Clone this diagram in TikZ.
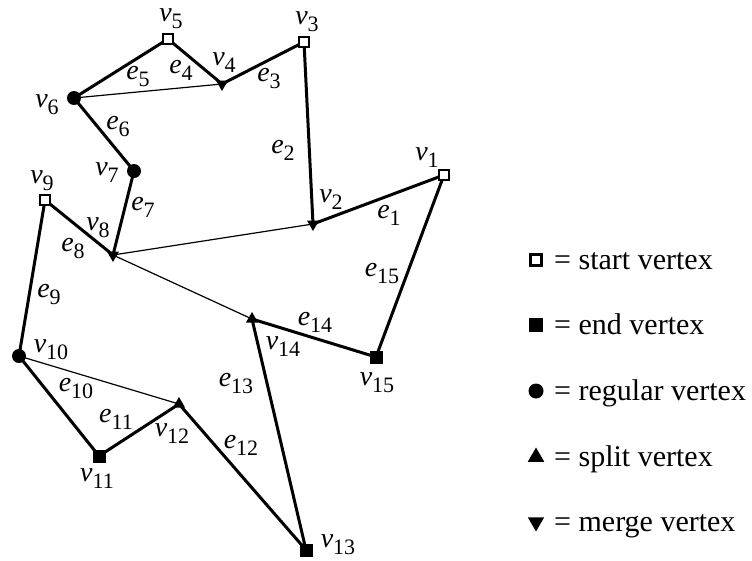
\documentclass[tikz,border=0pt]{standalone}
\usepackage{fontspec}
\setmainfont{Liberation Serif}
\usetikzlibrary{shapes.geometric}

% vertex and edge names with a lowered index
\newcommand{\vname}[1]{\textit{v}\raisebox{-0.25em}{\fontsize{22}{22}\selectfont #1}}
\newcommand{\ename}[1]{\textit{e}\raisebox{-0.25em}{\fontsize{22}{22}\selectfont #1}}

\tikzset{
  vmark/.style={inner sep=0pt, outer sep=0pt},
  startv/.style={vmark, rectangle, draw, fill=white, line width=2.4pt, minimum size=10pt},
  endv/.style={vmark, rectangle, fill, minimum size=13pt},
  regv/.style={vmark, circle, fill, minimum size=14pt},
  splitv/.style={vmark, regular polygon, regular polygon sides=3, fill, minimum size=14pt},
  mergev/.style={splitv, shape border rotate=180},
  boundary/.style={line width=3pt, line join=miter},
  diagonal/.style={line width=1.2pt},
  lab/.style={font=\fontsize{28}{30}\selectfont, inner sep=0pt},
  key/.style={font=\fontsize{30}{32}\selectfont, inner sep=0pt, anchor=base west},
}

\begin{document}
\begin{tikzpicture}[x=1pt, y=-1pt]
\useasboundingbox (0,0) rectangle (752,560);

% Vertices of the polygon
\coordinate (v1) at (444,175);
\coordinate (v2) at (313,224);
\coordinate (v3) at (304,42);
\coordinate (v4) at (222,84);
\coordinate (v5) at (168,39);
\coordinate (v6) at (74,98);
\coordinate (v7) at (134,171);
\coordinate (v8) at (113,255);
\coordinate (v9) at (45,200);
\coordinate (v10) at (19,356);
\coordinate (v11) at (99,456);
\coordinate (v12) at (179,404);
\coordinate (v13) at (306,550);
\coordinate (v14) at (252,319);
\coordinate (v15) at (376,357);

% Diagonals
\draw[diagonal] (v6) -- (v4);
\draw[diagonal] (v8) -- (v2);
\draw[diagonal] (v8) -- (v14);
\draw[diagonal] (v10) -- (v12);

% Boundary
\draw[boundary] (v1) -- (v2) -- (v3) -- (v4) -- (v5) -- (v6) -- (v7) -- (v8)
  -- (v9) -- (v10) -- (v11) -- (v12) -- (v13) -- (v14) -- (v15) -- cycle;

% Vertex types
\foreach \v in {v1,v3,v5,v9} \node[startv] at (\v) {};
\foreach \v in {v11,v13,v15} \node[endv] at (\v) {};
\foreach \v in {v6,v7,v10} \node[regv] at (\v) {};
\foreach \v in {v12,v14} \node[splitv] at (\v) {};
\foreach \v in {v2,v4,v8} \node[mergev] at (\v) {};

% Vertex labels
\node[lab] at (427,158) {\vname{1}};
\node[lab] at (331,200) {\vname{2}};
\node[lab] at (307,22) {\vname{3}};
\node[lab] at (224,63) {\vname{4}};
\node[lab] at (171,19) {\vname{5}};
\node[lab] at (47,105) {\vname{6}};
\node[lab] at (107,173) {\vname{7}};
\node[lab] at (98,228) {\vname{8}};
\node[lab] at (42,181) {\vname{9}};
\node[lab] at (51,350) {\vname{10}};
\node[lab] at (97,479) {\vname{11}};
\node[lab] at (172,434) {\vname{12}};
\node[lab] at (338,545) {\vname{13}};
\node[lab] at (283,347) {\vname{14}};
\node[lab] at (377,383) {\vname{15}};

% Edge labels
\node[lab] at (389,215) {\ename{1}};
\node[lab] at (283,150) {\ename{2}};
\node[lab] at (269,79) {\ename{3}};
\node[lab] at (181,70) {\ename{4}};
\node[lab] at (138,77) {\ename{5}};
\node[lab] at (118,127) {\ename{6}};
\node[lab] at (143,207) {\ename{7}};
\node[lab] at (73,249) {\ename{8}};
\node[lab] at (49,295) {\ename{9}};
\node[lab] at (76,389) {\ename{10}};
\node[lab] at (116,419) {\ename{11}};
\node[lab] at (241,445) {\ename{12}};
\node[lab] at (236,384) {\ename{13}};
\node[lab] at (315,322) {\ename{14}};
\node[lab] at (382,274) {\ename{15}};

% Legend
\node[startv, minimum size=11pt] (kstart) at (536,260) {};
\node[endv, minimum size=14pt] (kend) at (536,325) {};
\node[regv, minimum size=15pt] (kreg) at (536,391) {};
\node[splitv, minimum size=19pt] (ksplit) at (536,457) {};
\node[mergev, minimum size=19pt] (kmerge) at (536,522) {};
\node[key] at (554,269) {= start vertex};
\node[key] at (554,334) {= end vertex};
\node[key] at (554,400) {= regular vertex};
\node[key] at (554,466) {= split vertex};
\node[key] at (554,531) {= merge vertex};

\end{tikzpicture}
\end{document}
